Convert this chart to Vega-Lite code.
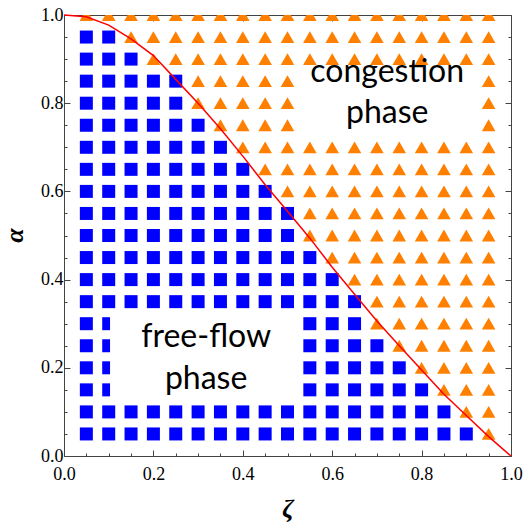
{
  "$schema": "https://vega.github.io/schema/vega-lite/v6.json",
  "width": 447,
  "height": 441,
  "autosize": "none",
  "padding": {"left": 64, "top": 15, "right": 13, "bottom": 68},
  "background": "white",
  "config": {
    "view": {"stroke": null},
    "axis": {
      "domainColor": "#444444",
      "tickColor": "#444444",
      "grid": false,
      "labelFont": "Liberation Serif",
      "labelFontSize": 18,
      "labelColor": "black",
      "titleFont": "Liberation Serif",
      "titleColor": "black",
      "titleFontStyle": "italic",
      "titleFontWeight": "bold"
    }
  },
  "datasets": {
    "pts": [
      {"z":0.05,"a":1,"p":"c"},{"z":0.1,"a":1,"p":"c"},{"z":0.15,"a":1,"p":"c"},{"z":0.2,"a":1,"p":"c"},{"z":0.25,"a":1,"p":"c"},{"z":0.3,"a":1,"p":"c"},{"z":0.35,"a":1,"p":"c"},{"z":0.4,"a":1,"p":"c"},{"z":0.45,"a":1,"p":"c"},{"z":0.5,"a":1,"p":"c"},{"z":0.55,"a":1,"p":"c"},{"z":0.6,"a":1,"p":"c"},{"z":0.65,"a":1,"p":"c"},{"z":0.7,"a":1,"p":"c"},{"z":0.75,"a":1,"p":"c"},{"z":0.8,"a":1,"p":"c"},{"z":0.85,"a":1,"p":"c"},{"z":0.9,"a":1,"p":"c"},{"z":0.95,"a":1,"p":"c"},
      {"z":0.05,"a":0.95,"p":"f"},{"z":0.1,"a":0.95,"p":"f"},{"z":0.15,"a":0.95,"p":"c"},{"z":0.2,"a":0.95,"p":"c"},{"z":0.25,"a":0.95,"p":"c"},{"z":0.3,"a":0.95,"p":"c"},{"z":0.35,"a":0.95,"p":"c"},{"z":0.4,"a":0.95,"p":"c"},{"z":0.45,"a":0.95,"p":"c"},{"z":0.5,"a":0.95,"p":"c"},{"z":0.55,"a":0.95,"p":"c"},{"z":0.6,"a":0.95,"p":"c"},{"z":0.65,"a":0.95,"p":"c"},{"z":0.7,"a":0.95,"p":"c"},{"z":0.75,"a":0.95,"p":"c"},{"z":0.8,"a":0.95,"p":"c"},{"z":0.85,"a":0.95,"p":"c"},{"z":0.9,"a":0.95,"p":"c"},{"z":0.95,"a":0.95,"p":"c"},
      {"z":0.05,"a":0.9,"p":"f"},{"z":0.1,"a":0.9,"p":"f"},{"z":0.15,"a":0.9,"p":"f"},{"z":0.2,"a":0.9,"p":"c"},{"z":0.25,"a":0.9,"p":"c"},{"z":0.3,"a":0.9,"p":"c"},{"z":0.35,"a":0.9,"p":"c"},{"z":0.4,"a":0.9,"p":"c"},{"z":0.45,"a":0.9,"p":"c"},{"z":0.5,"a":0.9,"p":"c"},{"z":0.55,"a":0.9,"p":"c"},{"z":0.6,"a":0.9,"p":"c"},{"z":0.65,"a":0.9,"p":"c"},{"z":0.7,"a":0.9,"p":"c"},{"z":0.75,"a":0.9,"p":"c"},{"z":0.8,"a":0.9,"p":"c"},{"z":0.85,"a":0.9,"p":"c"},{"z":0.9,"a":0.9,"p":"c"},{"z":0.95,"a":0.9,"p":"c"},
      {"z":0.05,"a":0.85,"p":"f"},{"z":0.1,"a":0.85,"p":"f"},{"z":0.15,"a":0.85,"p":"f"},{"z":0.2,"a":0.85,"p":"f"},{"z":0.25,"a":0.85,"p":"f"},{"z":0.3,"a":0.85,"p":"c"},{"z":0.35,"a":0.85,"p":"c"},{"z":0.4,"a":0.85,"p":"c"},{"z":0.45,"a":0.85,"p":"c"},{"z":0.5,"a":0.85,"p":"c"},{"z":0.55,"a":0.85,"p":"c"},{"z":0.6,"a":0.85,"p":"c"},{"z":0.65,"a":0.85,"p":"c"},{"z":0.7,"a":0.85,"p":"c"},{"z":0.75,"a":0.85,"p":"c"},{"z":0.8,"a":0.85,"p":"c"},{"z":0.85,"a":0.85,"p":"c"},{"z":0.9,"a":0.85,"p":"c"},{"z":0.95,"a":0.85,"p":"c"},
      {"z":0.05,"a":0.8,"p":"f"},{"z":0.1,"a":0.8,"p":"f"},{"z":0.15,"a":0.8,"p":"f"},{"z":0.2,"a":0.8,"p":"f"},{"z":0.25,"a":0.8,"p":"f"},{"z":0.3,"a":0.8,"p":"c"},{"z":0.35,"a":0.8,"p":"c"},{"z":0.4,"a":0.8,"p":"c"},{"z":0.45,"a":0.8,"p":"c"},{"z":0.5,"a":0.8,"p":"c"},{"z":0.55,"a":0.8,"p":"c"},{"z":0.6,"a":0.8,"p":"c"},{"z":0.65,"a":0.8,"p":"c"},{"z":0.7,"a":0.8,"p":"c"},{"z":0.75,"a":0.8,"p":"c"},{"z":0.8,"a":0.8,"p":"c"},{"z":0.85,"a":0.8,"p":"c"},{"z":0.9,"a":0.8,"p":"c"},{"z":0.95,"a":0.8,"p":"c"},
      {"z":0.05,"a":0.75,"p":"f"},{"z":0.1,"a":0.75,"p":"f"},{"z":0.15,"a":0.75,"p":"f"},{"z":0.2,"a":0.75,"p":"f"},{"z":0.25,"a":0.75,"p":"f"},{"z":0.3,"a":0.75,"p":"f"},{"z":0.35,"a":0.75,"p":"c"},{"z":0.4,"a":0.75,"p":"c"},{"z":0.45,"a":0.75,"p":"c"},{"z":0.5,"a":0.75,"p":"c"},{"z":0.55,"a":0.75,"p":"c"},{"z":0.6,"a":0.75,"p":"c"},{"z":0.65,"a":0.75,"p":"c"},{"z":0.7,"a":0.75,"p":"c"},{"z":0.75,"a":0.75,"p":"c"},{"z":0.8,"a":0.75,"p":"c"},{"z":0.85,"a":0.75,"p":"c"},{"z":0.9,"a":0.75,"p":"c"},{"z":0.95,"a":0.75,"p":"c"},
      {"z":0.05,"a":0.7,"p":"f"},{"z":0.1,"a":0.7,"p":"f"},{"z":0.15,"a":0.7,"p":"f"},{"z":0.2,"a":0.7,"p":"f"},{"z":0.25,"a":0.7,"p":"f"},{"z":0.3,"a":0.7,"p":"f"},{"z":0.35,"a":0.7,"p":"f"},{"z":0.4,"a":0.7,"p":"c"},{"z":0.45,"a":0.7,"p":"c"},{"z":0.5,"a":0.7,"p":"c"},{"z":0.55,"a":0.7,"p":"c"},{"z":0.6,"a":0.7,"p":"c"},{"z":0.65,"a":0.7,"p":"c"},{"z":0.7,"a":0.7,"p":"c"},{"z":0.75,"a":0.7,"p":"c"},{"z":0.8,"a":0.7,"p":"c"},{"z":0.85,"a":0.7,"p":"c"},{"z":0.9,"a":0.7,"p":"c"},{"z":0.95,"a":0.7,"p":"c"},
      {"z":0.05,"a":0.65,"p":"f"},{"z":0.1,"a":0.65,"p":"f"},{"z":0.15,"a":0.65,"p":"f"},{"z":0.2,"a":0.65,"p":"f"},{"z":0.25,"a":0.65,"p":"f"},{"z":0.3,"a":0.65,"p":"f"},{"z":0.35,"a":0.65,"p":"f"},{"z":0.4,"a":0.65,"p":"f"},{"z":0.45,"a":0.65,"p":"c"},{"z":0.5,"a":0.65,"p":"c"},{"z":0.55,"a":0.65,"p":"c"},{"z":0.6,"a":0.65,"p":"c"},{"z":0.65,"a":0.65,"p":"c"},{"z":0.7,"a":0.65,"p":"c"},{"z":0.75,"a":0.65,"p":"c"},{"z":0.8,"a":0.65,"p":"c"},{"z":0.85,"a":0.65,"p":"c"},{"z":0.9,"a":0.65,"p":"c"},{"z":0.95,"a":0.65,"p":"c"},
      {"z":0.05,"a":0.6,"p":"f"},{"z":0.1,"a":0.6,"p":"f"},{"z":0.15,"a":0.6,"p":"f"},{"z":0.2,"a":0.6,"p":"f"},{"z":0.25,"a":0.6,"p":"f"},{"z":0.3,"a":0.6,"p":"f"},{"z":0.35,"a":0.6,"p":"f"},{"z":0.4,"a":0.6,"p":"f"},{"z":0.45,"a":0.6,"p":"f"},{"z":0.5,"a":0.6,"p":"c"},{"z":0.55,"a":0.6,"p":"c"},{"z":0.6,"a":0.6,"p":"c"},{"z":0.65,"a":0.6,"p":"c"},{"z":0.7,"a":0.6,"p":"c"},{"z":0.75,"a":0.6,"p":"c"},{"z":0.8,"a":0.6,"p":"c"},{"z":0.85,"a":0.6,"p":"c"},{"z":0.9,"a":0.6,"p":"c"},{"z":0.95,"a":0.6,"p":"c"},
      {"z":0.05,"a":0.55,"p":"f"},{"z":0.1,"a":0.55,"p":"f"},{"z":0.15,"a":0.55,"p":"f"},{"z":0.2,"a":0.55,"p":"f"},{"z":0.25,"a":0.55,"p":"f"},{"z":0.3,"a":0.55,"p":"f"},{"z":0.35,"a":0.55,"p":"f"},{"z":0.4,"a":0.55,"p":"f"},{"z":0.45,"a":0.55,"p":"f"},{"z":0.5,"a":0.55,"p":"f"},{"z":0.55,"a":0.55,"p":"c"},{"z":0.6,"a":0.55,"p":"c"},{"z":0.65,"a":0.55,"p":"c"},{"z":0.7,"a":0.55,"p":"c"},{"z":0.75,"a":0.55,"p":"c"},{"z":0.8,"a":0.55,"p":"c"},{"z":0.85,"a":0.55,"p":"c"},{"z":0.9,"a":0.55,"p":"c"},{"z":0.95,"a":0.55,"p":"c"},
      {"z":0.05,"a":0.5,"p":"f"},{"z":0.1,"a":0.5,"p":"f"},{"z":0.15,"a":0.5,"p":"f"},{"z":0.2,"a":0.5,"p":"f"},{"z":0.25,"a":0.5,"p":"f"},{"z":0.3,"a":0.5,"p":"f"},{"z":0.35,"a":0.5,"p":"f"},{"z":0.4,"a":0.5,"p":"f"},{"z":0.45,"a":0.5,"p":"f"},{"z":0.5,"a":0.5,"p":"f"},{"z":0.55,"a":0.5,"p":"c"},{"z":0.6,"a":0.5,"p":"c"},{"z":0.65,"a":0.5,"p":"c"},{"z":0.7,"a":0.5,"p":"c"},{"z":0.75,"a":0.5,"p":"c"},{"z":0.8,"a":0.5,"p":"c"},{"z":0.85,"a":0.5,"p":"c"},{"z":0.9,"a":0.5,"p":"c"},{"z":0.95,"a":0.5,"p":"c"},
      {"z":0.05,"a":0.45,"p":"f"},{"z":0.1,"a":0.45,"p":"f"},{"z":0.15,"a":0.45,"p":"f"},{"z":0.2,"a":0.45,"p":"f"},{"z":0.25,"a":0.45,"p":"f"},{"z":0.3,"a":0.45,"p":"f"},{"z":0.35,"a":0.45,"p":"f"},{"z":0.4,"a":0.45,"p":"f"},{"z":0.45,"a":0.45,"p":"f"},{"z":0.5,"a":0.45,"p":"f"},{"z":0.55,"a":0.45,"p":"f"},{"z":0.6,"a":0.45,"p":"c"},{"z":0.65,"a":0.45,"p":"c"},{"z":0.7,"a":0.45,"p":"c"},{"z":0.75,"a":0.45,"p":"c"},{"z":0.8,"a":0.45,"p":"c"},{"z":0.85,"a":0.45,"p":"c"},{"z":0.9,"a":0.45,"p":"c"},{"z":0.95,"a":0.45,"p":"c"},
      {"z":0.05,"a":0.4,"p":"f"},{"z":0.1,"a":0.4,"p":"f"},{"z":0.15,"a":0.4,"p":"f"},{"z":0.2,"a":0.4,"p":"f"},{"z":0.25,"a":0.4,"p":"f"},{"z":0.3,"a":0.4,"p":"f"},{"z":0.35,"a":0.4,"p":"f"},{"z":0.4,"a":0.4,"p":"f"},{"z":0.45,"a":0.4,"p":"f"},{"z":0.5,"a":0.4,"p":"f"},{"z":0.55,"a":0.4,"p":"f"},{"z":0.6,"a":0.4,"p":"f"},{"z":0.65,"a":0.4,"p":"c"},{"z":0.7,"a":0.4,"p":"c"},{"z":0.75,"a":0.4,"p":"c"},{"z":0.8,"a":0.4,"p":"c"},{"z":0.85,"a":0.4,"p":"c"},{"z":0.9,"a":0.4,"p":"c"},{"z":0.95,"a":0.4,"p":"c"},
      {"z":0.05,"a":0.35,"p":"f"},{"z":0.1,"a":0.35,"p":"f"},{"z":0.15,"a":0.35,"p":"f"},{"z":0.2,"a":0.35,"p":"f"},{"z":0.25,"a":0.35,"p":"f"},{"z":0.3,"a":0.35,"p":"f"},{"z":0.35,"a":0.35,"p":"f"},{"z":0.4,"a":0.35,"p":"f"},{"z":0.45,"a":0.35,"p":"f"},{"z":0.5,"a":0.35,"p":"f"},{"z":0.55,"a":0.35,"p":"f"},{"z":0.6,"a":0.35,"p":"f"},{"z":0.65,"a":0.35,"p":"f"},{"z":0.7,"a":0.35,"p":"c"},{"z":0.75,"a":0.35,"p":"c"},{"z":0.8,"a":0.35,"p":"c"},{"z":0.85,"a":0.35,"p":"c"},{"z":0.9,"a":0.35,"p":"c"},{"z":0.95,"a":0.35,"p":"c"},
      {"z":0.05,"a":0.3,"p":"f"},{"z":0.1,"a":0.3,"p":"f"},{"z":0.15,"a":0.3,"p":"f"},{"z":0.2,"a":0.3,"p":"f"},{"z":0.25,"a":0.3,"p":"f"},{"z":0.3,"a":0.3,"p":"f"},{"z":0.35,"a":0.3,"p":"f"},{"z":0.4,"a":0.3,"p":"f"},{"z":0.45,"a":0.3,"p":"f"},{"z":0.5,"a":0.3,"p":"f"},{"z":0.55,"a":0.3,"p":"f"},{"z":0.6,"a":0.3,"p":"f"},{"z":0.65,"a":0.3,"p":"f"},{"z":0.7,"a":0.3,"p":"c"},{"z":0.75,"a":0.3,"p":"c"},{"z":0.8,"a":0.3,"p":"c"},{"z":0.85,"a":0.3,"p":"c"},{"z":0.9,"a":0.3,"p":"c"},{"z":0.95,"a":0.3,"p":"c"},
      {"z":0.05,"a":0.25,"p":"f"},{"z":0.1,"a":0.25,"p":"f"},{"z":0.15,"a":0.25,"p":"f"},{"z":0.2,"a":0.25,"p":"f"},{"z":0.25,"a":0.25,"p":"f"},{"z":0.3,"a":0.25,"p":"f"},{"z":0.35,"a":0.25,"p":"f"},{"z":0.4,"a":0.25,"p":"f"},{"z":0.45,"a":0.25,"p":"f"},{"z":0.5,"a":0.25,"p":"f"},{"z":0.55,"a":0.25,"p":"f"},{"z":0.6,"a":0.25,"p":"f"},{"z":0.65,"a":0.25,"p":"f"},{"z":0.7,"a":0.25,"p":"f"},{"z":0.75,"a":0.25,"p":"c"},{"z":0.8,"a":0.25,"p":"c"},{"z":0.85,"a":0.25,"p":"c"},{"z":0.9,"a":0.25,"p":"c"},{"z":0.95,"a":0.25,"p":"c"},
      {"z":0.05,"a":0.2,"p":"f"},{"z":0.1,"a":0.2,"p":"f"},{"z":0.15,"a":0.2,"p":"f"},{"z":0.2,"a":0.2,"p":"f"},{"z":0.25,"a":0.2,"p":"f"},{"z":0.3,"a":0.2,"p":"f"},{"z":0.35,"a":0.2,"p":"f"},{"z":0.4,"a":0.2,"p":"f"},{"z":0.45,"a":0.2,"p":"f"},{"z":0.5,"a":0.2,"p":"f"},{"z":0.55,"a":0.2,"p":"f"},{"z":0.6,"a":0.2,"p":"f"},{"z":0.65,"a":0.2,"p":"f"},{"z":0.7,"a":0.2,"p":"f"},{"z":0.75,"a":0.2,"p":"f"},{"z":0.8,"a":0.2,"p":"c"},{"z":0.85,"a":0.2,"p":"c"},{"z":0.9,"a":0.2,"p":"c"},{"z":0.95,"a":0.2,"p":"c"},
      {"z":0.05,"a":0.15,"p":"f"},{"z":0.1,"a":0.15,"p":"f"},{"z":0.15,"a":0.15,"p":"f"},{"z":0.2,"a":0.15,"p":"f"},{"z":0.25,"a":0.15,"p":"f"},{"z":0.3,"a":0.15,"p":"f"},{"z":0.35,"a":0.15,"p":"f"},{"z":0.4,"a":0.15,"p":"f"},{"z":0.45,"a":0.15,"p":"f"},{"z":0.5,"a":0.15,"p":"f"},{"z":0.55,"a":0.15,"p":"f"},{"z":0.6,"a":0.15,"p":"f"},{"z":0.65,"a":0.15,"p":"f"},{"z":0.7,"a":0.15,"p":"f"},{"z":0.75,"a":0.15,"p":"f"},{"z":0.8,"a":0.15,"p":"f"},{"z":0.85,"a":0.15,"p":"c"},{"z":0.9,"a":0.15,"p":"c"},{"z":0.95,"a":0.15,"p":"c"},
      {"z":0.05,"a":0.1,"p":"f"},{"z":0.1,"a":0.1,"p":"f"},{"z":0.15,"a":0.1,"p":"f"},{"z":0.2,"a":0.1,"p":"f"},{"z":0.25,"a":0.1,"p":"f"},{"z":0.3,"a":0.1,"p":"f"},{"z":0.35,"a":0.1,"p":"f"},{"z":0.4,"a":0.1,"p":"f"},{"z":0.45,"a":0.1,"p":"f"},{"z":0.5,"a":0.1,"p":"f"},{"z":0.55,"a":0.1,"p":"f"},{"z":0.6,"a":0.1,"p":"f"},{"z":0.65,"a":0.1,"p":"f"},{"z":0.7,"a":0.1,"p":"f"},{"z":0.75,"a":0.1,"p":"f"},{"z":0.8,"a":0.1,"p":"f"},{"z":0.85,"a":0.1,"p":"f"},{"z":0.9,"a":0.1,"p":"c"},{"z":0.95,"a":0.1,"p":"c"},
      {"z":0.05,"a":0.05,"p":"f"},{"z":0.1,"a":0.05,"p":"f"},{"z":0.15,"a":0.05,"p":"f"},{"z":0.2,"a":0.05,"p":"f"},{"z":0.25,"a":0.05,"p":"f"},{"z":0.3,"a":0.05,"p":"f"},{"z":0.35,"a":0.05,"p":"f"},{"z":0.4,"a":0.05,"p":"f"},{"z":0.45,"a":0.05,"p":"f"},{"z":0.5,"a":0.05,"p":"f"},{"z":0.55,"a":0.05,"p":"f"},{"z":0.6,"a":0.05,"p":"f"},{"z":0.65,"a":0.05,"p":"f"},{"z":0.7,"a":0.05,"p":"f"},{"z":0.75,"a":0.05,"p":"f"},{"z":0.8,"a":0.05,"p":"f"},{"z":0.85,"a":0.05,"p":"f"},{"z":0.9,"a":0.05,"p":"f"},{"z":0.95,"a":0.05,"p":"c"}
    ],
    "curve": [
      {"z":0,"a":1},{"z":0.05,"a":0.996},{"z":0.1,"a":0.977},{"z":0.15,"a":0.946},{"z":0.2,"a":0.908},{"z":0.25,"a":0.854},{"z":0.3,"a":0.8},{"z":0.35,"a":0.742},{"z":0.4,"a":0.68},{"z":0.45,"a":0.615},{"z":0.5,"a":0.555},{"z":0.55,"a":0.494},{"z":0.6,"a":0.428},{"z":0.65,"a":0.367},{"z":0.7,"a":0.306},{"z":0.75,"a":0.25},{"z":0.8,"a":0.195},{"z":0.85,"a":0.14},{"z":0.9,"a":0.092},{"z":0.95,"a":0.044},{"z":1,"a":0}
    ],
    "boxes": [
      {"z":0.103,"z2":0.53,"a":0.125,"a2":0.328},
      {"z":0.52,"z2":0.93,"a":0.72,"a2":0.88}
    ],
    "labels": [
      {"z":0.723,"a":0.848,"t":"congestion"},
      {"z":0.723,"a":0.755,"t":"phase"},
      {"z":0.318,"a":0.248,"t":"free-flow"},
      {"z":0.318,"a":0.152,"t":"phase"}
    ]
  },
  "layer": [
    {
      "data": {"name": "pts"},
      "mark": {"type": "point", "filled": true, "opacity": 1, "clip": true, "strokeWidth": 0},
      "encoding": {
        "x": {"field": "z", "type": "quantitative", "scale": {"domain": [0, 1], "nice": false},
          "axis": {"orient": "bottom", "title": "ζ", "titleFontSize": 26, "titleBaseline": "alphabetic", "titleY": 60,
            "values": [0,0.05,0.1,0.15,0.2,0.25,0.3,0.35,0.4,0.45,0.5,0.55,0.6,0.65,0.7,0.75,0.8,0.85,0.9,0.95,1],
            "labelExpr": "abs(datum.value*5 - round(datum.value*5)) < 0.001 ? format(datum.value, '.1f') : ''",
            "labelFlush": false, "labelOverlap": false, "labelPadding": 15,
            "tickSize": {"condition": {"test": "abs(datum.value*5 - round(datum.value*5)) < 0.001", "value": -6}, "value": -3}}},
        "y": {"field": "a", "type": "quantitative", "scale": {"domain": [0, 1], "nice": false},
          "axis": {"orient": "left", "title": "α", "titleFontSize": 26, "titleX": -50, "titleY": 220, "titleBaseline": "middle", "titleAlign": "center",
            "values": [0,0.05,0.1,0.15,0.2,0.25,0.3,0.35,0.4,0.45,0.5,0.55,0.6,0.65,0.7,0.75,0.8,0.85,0.9,0.95,1],
            "labelExpr": "abs(datum.value*5 - round(datum.value*5)) < 0.001 ? format(datum.value, '.1f') : ''",
            "labelFlush": false, "labelOverlap": false, "labelPadding": 7,
            "tickSize": {"condition": {"test": "abs(datum.value*5 - round(datum.value*5)) < 0.001", "value": -6}, "value": -3}}},
        "shape": {"field": "p", "type": "nominal", "scale": {"domain": ["f", "c"], "range": ["square", "triangle-up"]}, "legend": null},
        "color": {"field": "p", "type": "nominal", "scale": {"domain": ["f", "c"], "range": ["#0000ff", "#ff8000"]}, "legend": null},
        "size": {"field": "p", "type": "ordinal", "scale": {"domain": ["f", "c"], "range": [169, 185]}, "legend": null}
      }
    },
    {
      "data": {"name": "curve"},
      "mark": {"type": "line", "color": "#ff0000", "strokeWidth": 1.5},
      "encoding": {
        "x": {"field": "z", "type": "quantitative",
          "axis": {"orient": "top", "title": null, "labels": false,
            "values": [0,0.05,0.1,0.15,0.2,0.25,0.3,0.35,0.4,0.45,0.5,0.55,0.6,0.65,0.7,0.75,0.8,0.85,0.9,0.95,1],
            "tickSize": {"condition": {"test": "abs(datum.value*5 - round(datum.value*5)) < 0.001", "value": -6}, "value": -3}}},
        "y": {"field": "a", "type": "quantitative",
          "axis": {"orient": "right", "title": null, "labels": false,
            "values": [0,0.05,0.1,0.15,0.2,0.25,0.3,0.35,0.4,0.45,0.5,0.55,0.6,0.65,0.7,0.75,0.8,0.85,0.9,0.95,1],
            "tickSize": {"condition": {"test": "abs(datum.value*5 - round(datum.value*5)) < 0.001", "value": -6}, "value": -3}}}
      }
    },
    {
      "data": {"name": "boxes"},
      "mark": {"type": "rect", "fill": "white", "stroke": null},
      "encoding": {
        "x": {"field": "z", "type": "quantitative", "axis": null},
        "x2": {"field": "z2"},
        "y": {"field": "a", "type": "quantitative", "axis": null},
        "y2": {"field": "a2"}
      }
    },
    {
      "data": {"name": "labels"},
      "mark": {"type": "text", "font": "Lato", "fontSize": 32, "align": "center", "baseline": "alphabetic", "color": "black"},
      "encoding": {
        "x": {"field": "z", "type": "quantitative", "axis": null},
        "y": {"field": "a", "type": "quantitative", "axis": null},
        "text": {"field": "t"}
      }
    }
  ],
  "resolve": {"axis": {"x": "independent", "y": "independent"}}
}
